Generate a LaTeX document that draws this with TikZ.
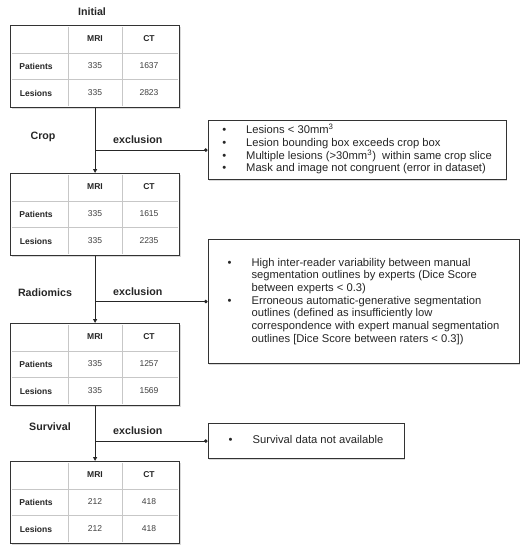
\documentclass[tikz,border=0pt]{standalone}
\usepackage{fontspec}
\setmainfont{Liberation Sans}
\usetikzlibrary{
  arrows.meta,
  calc,
  shadows
}
\tikzset{
  % For the cohort tables.
  table frame/.style={
    rectangle,
    draw=black!80,
    line width=0.9pt,
    fill=white,
    drop shadow={shadow xshift=1pt, shadow yshift=-1.2pt, opacity=0.3},
    minimum width=126.75pt,
    minimum height=61.5pt,
    inner sep=0pt,
    anchor=north west},
%
  % For the thin rules between cells.
  cell rule/.style={
    draw=black!22,
    line width=0.5pt},
%
  % For the cell texts.
  head cell/.style={
    font=\fontsize{6.4}{7}\selectfont\bfseries,
    text=black!85,
    inner sep=0pt},
  number cell/.style={
    font=\fontsize{6.4}{7}\selectfont,
    text=black!75,
    inner sep=0pt},
%
  % For the exclusion criteria.
  exclusion box/.style={
    rectangle,
    draw=black!80,
    line width=0.8pt,
    fill=white,
    drop shadow={shadow xshift=1pt, shadow yshift=-1.2pt, opacity=0.3},
    font=\fontsize{8.4}{9.5}\selectfont,
    text=black!85,
    inner sep=0pt,
    anchor=north west},
%
  % For stage names and the word on each branch.
  stage/.style={
    font=\fontsize{8}{9}\selectfont\bfseries,
    text=black!85},
%
  % Main flow and side branches.
  flow/.style={
    draw=black!85,
    line width=0.8pt,
    -{Triangle[length=3pt,width=3pt]}},
  branch/.style={
    draw=black!85,
    line width=0.8pt,
    -{Circle[length=2.6pt]}},
}

% #1 name, #2 top, #3 #4 patients (MRI, CT), #5 #6 lesions (MRI, CT)
\newcommand{\cohorttable}[6]{%
  \node[table frame] (#1) at (10,#2) {};
  \draw[cell rule] ($(#1.north west)+(58,2)$) -- ($(#1.south west)+(58,-2)$);
  \draw[cell rule] ($(#1.north west)+(112,2)$) -- ($(#1.south west)+(112,-2)$);
  \draw[cell rule] ($(#1.north west)+(2,28)$) -- ($(#1.north east)+(-2,28)$);
  \draw[cell rule] ($(#1.north west)+(2,54)$) -- ($(#1.north east)+(-2,54)$);
  \node[head cell] (#1-mri) at ($(#1.north west)+(85,14)$) {MRI};
  \node[head cell] (#1-ct) at ($(#1.north west)+(139,14)$) {CT};
  \node[head cell] (#1-pat) at ($(#1.north west)+(26,41)$) {Patients};
  \node[head cell] (#1-les) at ($(#1.north west)+(26,68)$) {Lesions};
  \node[number cell] (#1-pm) at ($(#1.north west)+(85,41)$) {#3};
  \node[number cell] (#1-pc) at ($(#1.north west)+(139,41)$) {#4};
  \node[number cell] (#1-lm) at ($(#1.north west)+(85,68)$) {#5};
  \node[number cell] (#1-lc) at ($(#1.north west)+(139,68)$) {#6};
}

\begin{document}
\begin{tikzpicture}[x=0.75pt, y=-0.75pt]
  \useasboundingbox (0,0) rectangle (527,550);

  \cohorttable{tinit}{25}{335}{1637}{335}{2823}
  \cohorttable{tcrop}{173}{335}{1615}{335}{2235}
  \cohorttable{tradio}{323}{335}{1257}{335}{1569}
  \cohorttable{tsurv}{461}{212}{418}{212}{418}

  \node[exclusion box, minimum width=223.5pt, minimum height=44.25pt]
    (xcrop) at (207.5,120) {%
    \begin{tabular}{@{}l@{\hspace{15pt}}l@{}}
      \textbullet & Lesions < 30mm\textsuperscript{3}\\
      \textbullet & Lesion bounding box exceeds crop box\\
      \textbullet & Multiple lesions (>30mm\textsuperscript{3})\ \ within same crop slice\\
      \textbullet & Mask and image not congruent (error in dataset)
    \end{tabular}};
  \node[exclusion box, minimum width=233.25pt, minimum height=93pt]
    (xradio) at (207.5,239) {%
    \begin{tabular}{@{}l@{\hspace{15pt}}l@{}}
      \textbullet & High inter-reader variability between manual\\
                  & segmentation outlines by experts (Dice Score\\
                  & between experts < 0.3)\\
      \textbullet & Erroneous automatic-generative segmentation\\
                  & outlines (defined as insufficiently low\\
                  & correspondence with expert manual segmentation\\
                  & outlines [Dice Score between raters < 0.3])
    \end{tabular}};
  \node[exclusion box, minimum width=147pt, minimum height=26.25pt]
    (xsurv) at (207.5,423) {%
    \begin{tabular}{@{}l@{\hspace{15pt}}l@{}}
      \textbullet & Survival data not available
    \end{tabular}};

  \node[stage] (linit) at (92,12) {Initial};
  \node[stage] (lcrop) at (43,137) {Crop};
  \node[stage] (lradio) at (45,293) {Radiomics};
  \node[stage] (lsurv) at (50,427) {Survival};

  \draw[flow] (tinit.south) -- (tcrop.north);
  \draw[flow] (tcrop.south) -- (tradio.north);
  \draw[flow] (tradio.south) -- (tsurv.north);

  \coordinate (jcrop) at (tinit.south |- xcrop.west);
  \coordinate (jradio) at (tcrop.south |- xradio.west);
  \coordinate (jsurv) at (tradio.south |- xsurv.west);

  \draw[branch] (jcrop) -- (xcrop.west)
    node[stage, pos=0.38, above=1pt] (ecrop) {exclusion};
  \draw[branch] (jradio) -- (xradio.west)
    node[stage, pos=0.38, above=1pt] (eradio) {exclusion};
  \draw[branch] (jsurv) -- (xsurv.west)
    node[stage, pos=0.38, above=1pt] (esurv) {exclusion};
\end{tikzpicture}
\end{document}
